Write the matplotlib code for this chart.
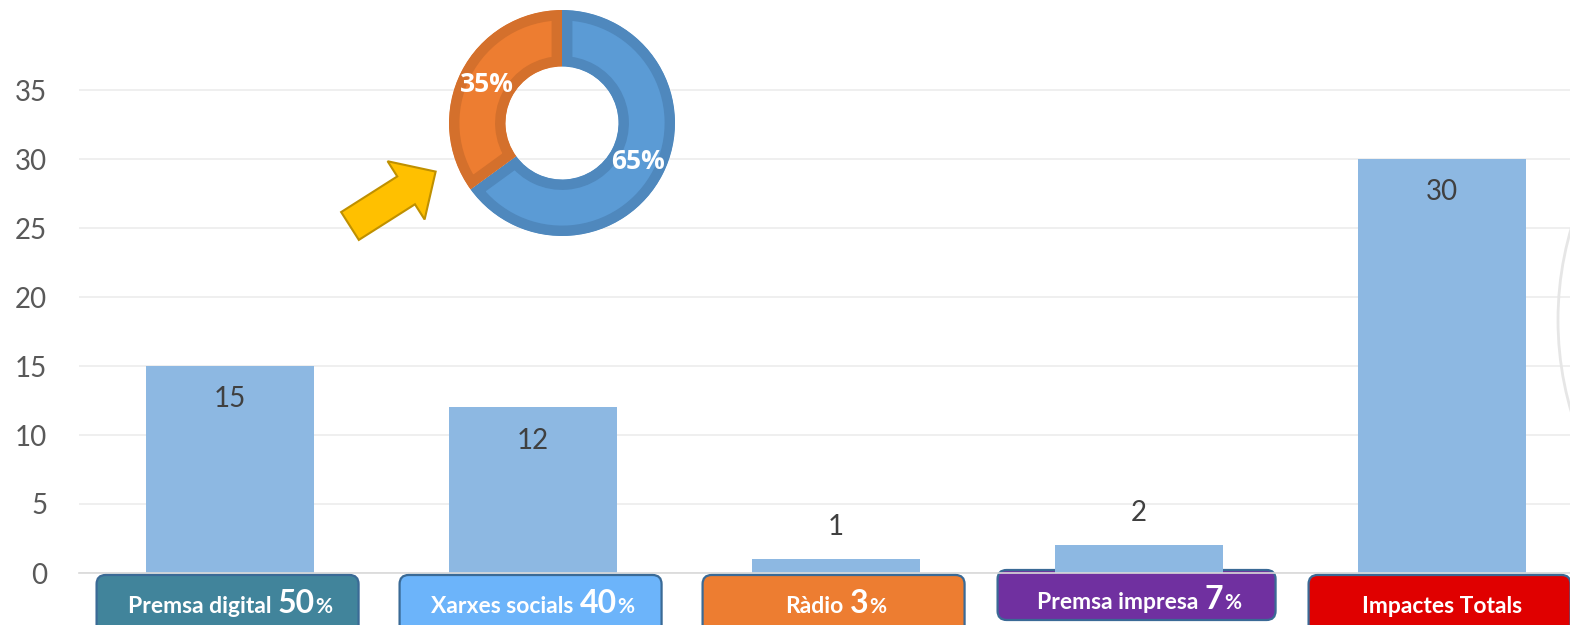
import matplotlib
matplotlib.use("Agg")
import matplotlib.pyplot as plt
from matplotlib.patches import FancyBboxPatch, FancyArrow, Circle
from matplotlib import transforms
import numpy as np

categories = ["Premsa digital", "Xarxes socials", "Ràdio", "Premsa impresa", "Impactes Totals"]
values = [15, 12, 1, 2, 30]
shares = ["50", "40", "3", "7", ""]
box_colors = ["#41849B", "#6CB4FA", "#ED7D31", "#7030A0", "#E00000"]
yticks = [0, 5, 10, 15, 20, 25, 30, 35]

donut_values = [65, 35]
donut_labels = ["65%", "35%"]
donut_colors = ["#5B9BD5", "#ED7D31"]
donut_edges = ["#4F88BD", "#D4702C"]

W, H = 1570, 625
fig = plt.figure(figsize=(W / 100, H / 100), dpi=100)

# main axes in pixel layout
x0, x1 = 78.5, 1593.5
y_zero = 573.0
ppu = 13.8
ymax = 36
ax = fig.add_axes([x0 / W, (H - y_zero) / H, (x1 - x0) / W, ymax * ppu / H])
ax.set_xlim(-0.5, len(categories) - 0.5)
ax.set_ylim(0, ymax)
for s in ["top", "right", "left"]:
    ax.spines[s].set_visible(False)
ax.spines["bottom"].set_color("#D9D9D9")
ax.spines["bottom"].set_linewidth(1.2)
ax.set_yticks(yticks)
ax.set_yticklabels([str(t) for t in yticks], fontsize=20, color="#595959", family=["Lato", "DejaVu Sans"])
ax.tick_params(axis="y", length=0, pad=22.5)
ax.set_xticks([])
ax.grid(axis="y", color="#EBEBEB", linewidth=1.1)
ax.set_axisbelow(True)

xs = list(range(len(categories)))
bars = ax.bar(xs, values, width=168 / 303, color="#8DB8E2", zorder=2)
for x, v in zip(xs, values):
    off = -24 if v >= 5 else 23
    ax.annotate(str(v), (x, v), xytext=(0, off), textcoords="offset points",
                ha="center", va="center", fontsize=20, color="#404040",
                family=["Lato", "DejaVu Sans"])

# category boxes
renderer = fig.canvas.get_renderer()
box_font = ["Lato", "DejaVu Sans"]
for i, (cat, sh, col) in enumerate(zip(categories, shares, box_colors)):
    bw = 262 / 303 if i != 3 else 278 / 303
    top_px = 575 if i != 3 else 570
    bot_px = 640 if i != 3 else 620
    ytop = -(top_px - y_zero) / ppu
    ybot = -(bot_px - y_zero) / ppu
    box = FancyBboxPatch((i - bw / 2 - 0.008, ybot), bw, ytop - ybot,
                         boxstyle="round,pad=0,rounding_size=0.03",
                         mutation_aspect=303 / ppu,
                         facecolor=col, edgecolor="#3A6A96", linewidth=1.6,
                         clip_on=False, zorder=3 if i != 3 else 1)
    ax.add_patch(box)
    parts = [(cat, 16.5, 0)]
    if sh:
        parts += [(sh, 23, 6), ("%", 15, 1)]
    ytext = -(613 - y_zero) / ppu if i != 3 else -(609 - y_zero) / ppu
    texts = []
    widths = []
    for s, size, gap in parts:
        t = ax.text(i, ytext, s, fontsize=size, fontweight="bold", color="white",
                    ha="left", va="baseline", family=box_font, zorder=4, clip_on=False)
        texts.append((t, gap))
        widths.append(t.get_window_extent(renderer).width)
    total = sum(widths) + sum(g for _, g in texts)
    cur = -total / 2
    for (t, gap), w in zip(texts, widths):
        cur += gap
        t.set_transform(transforms.offset_copy(ax.transData, fig=fig, x=cur, y=0, units="dots"))
        cur += w

# overlay pixel axes for decorations
ov = fig.add_axes([0, 0, 1, 1], facecolor="none")
ov.set_xlim(0, W)
ov.set_ylim(H, 0)
ov.axis("off")
arrow = FancyArrow(350, 226, 85 * 0.66, -54 * 0.66, width=33, head_width=69, head_length=35,
                   length_includes_head=False, facecolor="#FFC000", edgecolor="#BF9000", linewidth=1.5)
ov.add_patch(arrow)
ov.add_patch(Circle((1883, 320), 325, facecolor="none", edgecolor="#E6E6E6", linewidth=2))

# donut
cx, cy, R = 562, 123, 113
dax = fig.add_axes([(cx - R) / W, (H - cy - R) / H, 2 * R / W, 2 * R / H])
wedges, txts = dax.pie(donut_values, colors=donut_colors, startangle=90, counterclock=False,
                       radius=1, wedgeprops=dict(width=0.5))
for w, ec in zip(wedges, donut_edges):
    w.set_edgecolor(ec)
    w.set_linewidth(15)
    w.set_clip_on(True)
    w.set_clip_path(w)
ang = 90
for v, lab in zip(donut_values, donut_labels):
    span = v / sum(donut_values) * 360
    mid = np.deg2rad(ang - span / 2)
    ang -= span
    dax.text(0.75 * np.cos(mid), 0.75 * np.sin(mid), lab, ha="center", va="center",
             fontsize=19, fontweight="bold", color="white", family=["Open Sans", "DejaVu Sans"])
dax.set_xlim(-1, 1)
dax.set_ylim(-1, 1)
dax.set_aspect("equal")

fig.savefig("out.png", dpi=100)
